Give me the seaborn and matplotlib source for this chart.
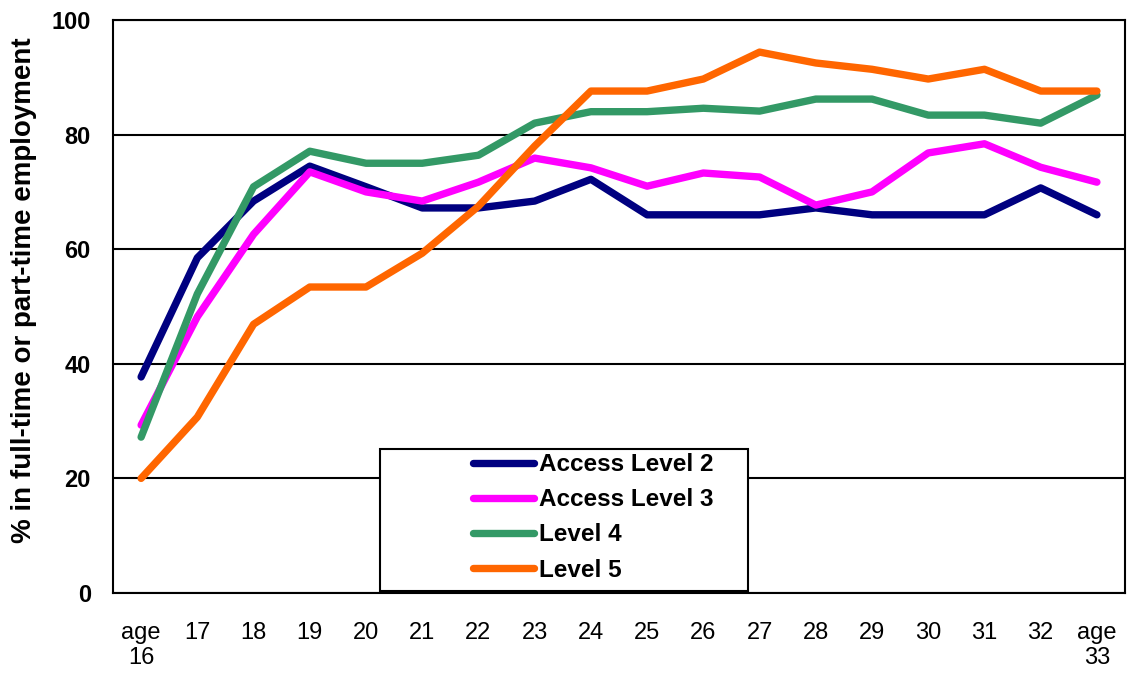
import pandas as pd
import matplotlib.pyplot as plt
import seaborn as sns
from matplotlib.patches import Rectangle
from matplotlib.ticker import FixedLocator

# categories (ages) and series values
ages = ["age\n16", "17", "18", "19", "20", "21", "22", "23", "24", "25",
        "26", "27", "28", "29", "30", "31", "32", "age\n33"]
access2 = [37.7, 58.5, 68.4, 74.5, 70.9, 67.2, 67.2, 68.4, 72.2, 66.0,
           66.0, 66.0, 67.2, 66.0, 66.0, 66.0, 70.7, 66.0]
access3 = [29.3, 48.2, 62.6, 73.5, 70.0, 68.4, 71.7, 75.9, 74.2, 71.0,
           73.3, 72.6, 67.7, 70.0, 76.8, 78.4, 74.3, 71.7]
level4 = [27.2, 52.2, 70.9, 77.1, 75.0, 75.0, 76.4, 82.0, 84.0, 84.0,
          84.6, 84.1, 86.2, 86.2, 83.4, 83.4, 82.0, 86.9]
level5 = [20.0, 30.7, 46.9, 53.4, 53.4, 59.3, 67.5, 78.0, 87.6, 87.6,
          89.7, 94.4, 92.5, 91.4, 89.7, 91.4, 87.6, 87.6]

series = ["Access Level 2", "Access Level 3", "Level 4", "Level 5"]
colors = {"Access Level 2": "#000080", "Access Level 3": "#FF00FF",
          "Level 4": "#339966", "Level 5": "#FF6600"}

df = pd.DataFrame({"pos": range(len(ages)), "Access Level 2": access2,
                   "Access Level 3": access3, "Level 4": level4, "Level 5": level5})
long = df.melt(id_vars="pos", var_name="series", value_name="pct")

sns.set_style("white")
plt.rcParams["font.family"] = ["Liberation Sans", "DejaVu Sans"]
plt.rcParams["text.color"] = "black"
plt.rcParams["axes.labelcolor"] = "black"
plt.rcParams["xtick.color"] = "black"
plt.rcParams["ytick.color"] = "black"

fig = plt.figure(figsize=(11.3, 6.76), dpi=100)
ax = fig.add_axes([0.1, 0.1228, 0.8956, 0.8476])

sns.lineplot(data=long, x="pos", y="pct", hue="series", hue_order=series,
             palette=colors, linewidth=5.3, sort=False, legend=False, ax=ax,
             solid_capstyle="round")

ax.set_xlim(-0.5, len(ages) - 0.5)
ax.set_ylim(0, 100)
ax.set_yticks([0, 20, 40, 60, 80, 100])
ax.yaxis.grid(True, color="black", linewidth=1.5)
ax.set_axisbelow(True)
for s in ax.spines.values():
    s.set_color("black")
    s.set_linewidth(1.5)

ax.set_xticks(range(len(ages)))
ax.set_xticklabels(ages, fontsize=17, va="top", linespacing=1.15)
ax.xaxis.set_minor_locator(FixedLocator([i - 0.5 for i in range(len(ages) + 1)]))
ax.tick_params(axis="x", which="major", length=0, pad=21, labelcolor="black")
ax.tick_params(axis="x", which="minor", length=7, width=1.5, color="black", direction="out")
ax.tick_params(axis="y", length=7, width=1.5, color="black", direction="out", pad=9,
               labelcolor="black")
for lbl in ax.get_yticklabels():
    lbl.set_fontweight("bold")
    lbl.set_fontsize(17)

ax.set_xlabel("")
ax.set_ylabel("% in full-time or part-time employment", fontsize=20,
              fontweight="bold", color="black")
ax.yaxis.set_label_coords(-0.075, 0.529)

# legend box
ax.add_patch(Rectangle((0.264, 0.004), 0.363, 0.247, transform=ax.transAxes,
                       facecolor="white", edgecolor="black", linewidth=1.5, zorder=5))
handles = [plt.Line2D([], [], color=colors[s], linewidth=5.3, solid_capstyle="round")
           for s in series]
leg = ax.legend(handles, series, loc="lower left", bbox_to_anchor=(0.356, 0.02),
                frameon=False, prop={"weight": "bold", "size": 17.5},
                handlelength=2.5, handletextpad=0.2, labelspacing=0.5,
                borderpad=0, borderaxespad=0, labelcolor="black")
leg.set_zorder(6)

fig.savefig("out.png", dpi=100)
